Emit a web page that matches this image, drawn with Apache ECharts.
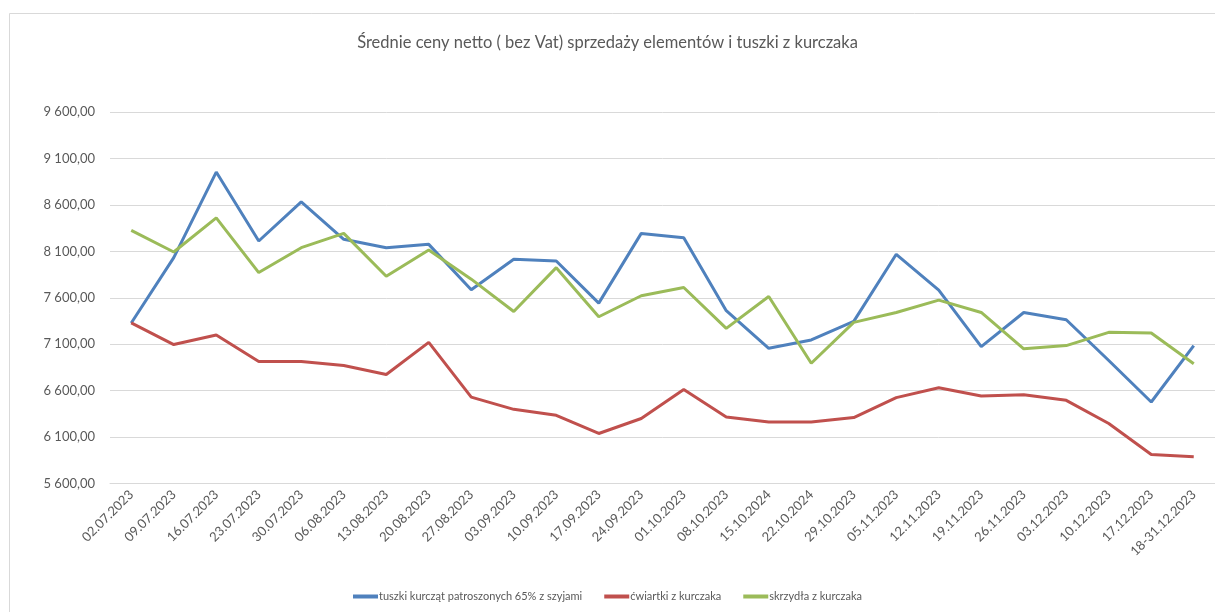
<!DOCTYPE html>
<html>
<head>
<meta charset="utf-8">
<script src="https://cdn.jsdelivr.net/npm/echarts@6/dist/echarts.min.js"></script>
<style>
html,body{margin:0;padding:0;background:#fff;}
#chart{width:1215px;height:612px;}
</style>
</head>
<body>
<div id="chart"></div>
<script>
const categories = ['02.07.2023','09.07.2023','16.07.2023','23.07.2023','30.07.2023','06.08.2023','13.08.2023','20.08.2023','27.08.2023','03.09.2023','10.09.2023','17.09.2023','24.09.2023','01.10.2023','08.10.2023','15.10.2024','22.10.2024','29.10.2023','05.11.2023','12.11.2023','19.11.2023','26.11.2023','03.12.2023','10.12.2023','17.12.2023','18-31.12.2023'];
const tuszki = [7330, 8034, 8956, 8213, 8634, 8231, 8141, 8177, 7687, 8016, 7998, 7544, 8295, 8248, 7462, 7057, 7147, 7347, 8070, 7684, 7075, 7443, 7365, 6925, 6478, 7086];
const cwiartki = [7330, 7097, 7201, 6914, 6914, 6871, 6775, 7121, 6531, 6399, 6335, 6139, 6300, 6614, 6317, 6263, 6263, 6310, 6525, 6632, 6542, 6557, 6496, 6246, 5913, 5888];
const skrzydla = [8328, 8095, 8463, 7873, 8141, 8295, 7834, 8116, 7802, 7454, 7926, 7397, 7623, 7712, 7272, 7615, 6896, 7336, 7443, 7576, 7443, 7051, 7086, 7229, 7222, 6890];
const seriesNames = ['tuszki kurcząt patroszonych 65% z szyjami', 'ćwiartki z kurczaka', 'skrzydła z kurczaka'];
const yMin = 5600, yMax = 9600, yStep = 500;

const FONT = 'Lato, "Open Sans", sans-serif';
function fmt(v){
  const s = Math.round(v).toString();
  const th = s.replace(/\B(?=(\d{3})+(?!\d))/g, ' ');
  return th + ',00';
}
const chart = echarts.init(document.getElementById('chart'), null, {renderer:'canvas'});
const gridColors = [];
for (let i = 0; i < yStep/100; i++) gridColors.push(i === 0 ? '#d9d9d9' : 'rgba(0,0,0,0)');

chart.setOption({
  animation:false,
  backgroundColor:'#fff',
  graphic:[{type:'rect', shape:{x:9.5, y:13.5, width:1400, height:800}, style:{fill:'none', stroke:'#d9d9d9', lineWidth:1}, z:-1}],
  title:{text:'Średnie ceny netto ( bez Vat) sprzedaży elementów i tuszki z kurczaka', left:'center', top:29,
    textStyle:{fontFamily:FONT, fontSize:16.5, fontWeight:'normal', color:'#595959'}},
  legend:{bottom:5, left:'center', icon:'rect', itemWidth:25, itemHeight:4, itemGap:22,
    textStyle:{fontFamily:FONT, fontSize:11, color:'#595959', padding:[0,0,0,-4]},
    data:seriesNames},
  grid:{left:110, right:-2.6, top:112.3, bottom:128.5, containLabel:false},
  xAxis:{type:'category', data:categories, boundaryGap:true,
    axisLine:{show:true, lineStyle:{color:'#d9d9d9'}}, axisTick:{show:false},
    axisLabel:{rotate:45, interval:0, margin:9, fontFamily:FONT, fontSize:13, color:'#595959'}},
  yAxis:{type:'value', min:yMin, max:yMax, interval:100,
    axisLine:{show:false}, axisTick:{show:false},
    splitLine:{show:true, lineStyle:{color:gridColors, width:1}},
    axisLabel:{margin:15, fontFamily:FONT, fontSize:13, color:'#595959',
      formatter:function(v){ return ((v - yMin) % yStep === 0) ? fmt(v) : ''; }}},
  series:[
    {name:seriesNames[0], type:'line', data:tuszki, symbol:'none', lineStyle:{width:3, color:'#4f81bd'}, itemStyle:{color:'#4f81bd'}},
    {name:seriesNames[1], type:'line', data:cwiartki, symbol:'none', lineStyle:{width:3, color:'#c0504d'}, itemStyle:{color:'#c0504d'}},
    {name:seriesNames[2], type:'line', data:skrzydla, symbol:'none', lineStyle:{width:3, color:'#9bbb59'}, itemStyle:{color:'#9bbb59'}}
  ]
});
</script>
</body>
</html>
